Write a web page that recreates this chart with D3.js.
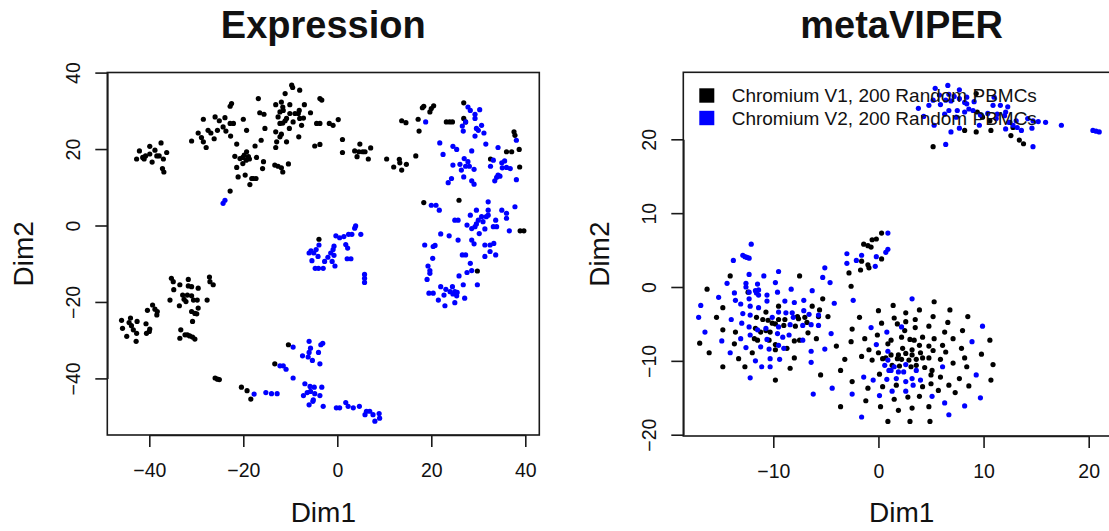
<!DOCTYPE html>
<html><head><meta charset="utf-8">
<script src="https://cdn.jsdelivr.net/npm/d3@7"></script>
<style>body{margin:0;background:#fff}svg{display:block}</style>
</head><body><svg id="c" width="1109" height="531"></svg>
<script>
// ---------- DATA ----------
const titles = ["Expression", "metaVIPER"];
const axisLabels = ["Dim1", "Dim2"];
const legendLabels = ["Chromium V1, 200 Random PBMCs", "Chromium V2, 200 Random PBMCs"];
const seriesColors = ["#000000", "#0000ff"];
const exprXTicks = [-40, -20, 0, 20, 40];
const exprYTicks = [-40, -20, 0, 20, 40];
const viperXTicks = [-10, 0, 10, 20];
const viperYTicks = [-20, -10, 0, 10, 20];

// Expression panel, Chromium V1 (black)
const exprV1 = [
[-42.7,17.4],[-42.1,19.5],[-41.4,17.8],[-41.1,17.4],[-40.8,18.2],[-39.9,20.7],[-39.9,18.7],[-39.4,16.6],[-38.8,19.7],[-38.4,18.2],[-37.9,18.2],[-37.5,21.6],[-37.0,17.4],[-36.3,19.1],[-37.2,14.9],[-36.9,14.0],
[-31.0,22.1],[-29.6,24.2],[-28.9,23.0],[-28.5,21.9],[-27.9,20.4],[-28.5,27.8],[-27.5,24.9],[-26.9,24.2],[-26.0,28.4],[-26.2,22.7],[-25.5,24.9],[-25.1,27.4],[-23.9,28.2],[-24.3,25.8],[-23.7,24.7],[-22.8,26.7],
[-22.7,23.4],[-22.8,31.2],[-22.5,31.9],[-22.1,26.7],[-21.4,21.3],[-20.0,27.8],[-19.3,24.9],[-21.8,18.1],[-21.4,15.2],[-20.7,17.5],[-20.1,17.8],[-19.8,18.4],[-19.4,17.1],[-19.3,19.3],[-18.9,18.0],[-18.7,17.4],
[-18.2,12.3],[-17.9,12.3],[-17.3,12.3],[-21.1,12.7],[-19.6,13.2],[-18.6,10.7],[-20.1,16.2],[-17.5,20.8],[-17.2,17.8],[-16.2,22.3],[-15.7,16.7],[-15.9,14.9],[-15.4,25.4],[-16.8,33.2],[-16.5,29.5],[-15.6,29.1],
[-13.1,31.6],[-12.6,28.4],[-12.2,29.7],[-11.9,32.3],[-11.6,31.0],[-11.5,30.1],[-11.6,26.8],[-12.2,26.7],[-11.1,27.4],[-10.8,28.0],[-10.1,29.3],[-10.1,31.6],[-9.7,36.7],[-9.5,36.1],[-11.1,34.5],[-8.0,35.4],
[-9.4,27.1],[-10.2,25.4],[-9.0,29.3],[-8.3,29.3],[-8.0,28.0],[-8.1,30.1],[-7.6,26.2],[-7.0,31.6],[-5.7,29.5],[-13.1,24.5],[-11.9,23.9],[-12.2,23.2],[-12.9,21.9],[-13.1,20.4],[-10.8,21.9],[-13.3,15.8],
[-12.6,15.5],[-11.9,15.1],[-11.6,14.0],[-10.4,16.1],[-8.2,23.2],[-7.2,28.1],[-4.4,26.7],[-3.7,26.7],[-1.7,26.7],[-0.9,26.2],[0.2,27.7],[-3.7,33.2],[-3.3,32.8],[-4.8,20.8],[-3.7,21.2],[-22.8,9.0],
[1.1,22.5],[1.1,19.1],[3.7,19.5],[4.2,18.0],[4.8,21.3],[4.6,19.3],[5.4,19.3],[5.9,19.3],[6.6,17.4],[7.1,20.3],[10.5,17.4],[12.0,15.3],[13.2,17.3],[13.3,16.4],[13.7,14.5],[14.7,16.0],
[16.7,18.2],[13.7,27.4],[14.6,26.9],[17.2,27.8],[17.4,24.7],[18.1,30.8],[18.4,31.2],[19.7,29.7],[20.0,30.6],[20.5,31.3],[23.2,27.1],[23.9,27.1],[24.5,27.1],[26.9,32.1],[26.9,28.0],[27.3,27.1],
[37.6,24.5],[37.8,23.6],[36.0,19.3],[37.1,19.3],[38.7,19.9],[32.6,17.4],[38.8,15.3],[18.4,6.0],[38.9,-1.4],[39.7,-1.4],[25.9,6.6],[29.8,-11.9],[-3.9,-3.6],
[-45.9,-24.8],[-45.7,-26.9],[-44.8,-29.0],[-44.3,-25.4],[-44.0,-24.2],[-43.8,-26.2],[-43.4,-27.3],[-42.8,-30.3],[-42.7,-28.2],[-42.6,-25.1],[-40.7,-25.7],[-40.6,-28.2],[-40.0,-27.7],[-39.9,-27.1],[-39.3,-20.8],[-40.4,-22.2],
[-38.8,-21.9],[-38.4,-23.4],[-38.3,-22.5],
[-35.3,-13.8],[-34.9,-14.7],[-34.8,-16.8],[-35.6,-19.5],[-33.5,-15.5],[-33.6,-21.0],[-32.9,-18.2],[-32.6,-19.3],[-32.2,-19.9],[-31.9,-18.2],[-31.7,-14.1],[-31.7,-15.8],[-31.0,-16.0],[-31.0,-18.4],[-30.6,-19.5],[-30.3,-23.0],
[-30.8,-25.1],[-31.0,-22.5],[-29.8,-19.5],[-29.6,-16.4],[-29.6,-21.6],[-29.9,-23.1],[-27.7,-19.5],[-27.2,-13.5],[-27.1,-14.7],[-26.4,-15.5],[-33.3,-27.3],[-33.5,-29.5],[-32.4,-28.6],[-31.9,-28.6],[-31.4,-28.9],[-30.8,-29.2],
[-30.3,-29.7],[-26.0,-39.9],[-25.5,-40.2],[-25.1,-40.3],[-20.4,-42.3],[-19.2,-43.2],[-18.4,-45.4],[-13.3,-36.2],[-10.4,-31.2]
];

// Expression panel, Chromium V2 (blue)
const exprV2 = [
[-24.3,5.8],[-23.9,6.6],[18.8,27.1],
[27.8,31.0],[28.3,30.1],[29.3,29.1],[29.3,28.0],[30.3,30.3],[27.3,27.1],[26.6,26.0],[26.8,24.7],[29.6,25.4],[30.0,24.9],[30.7,26.2],[31.2,24.2],[29.3,23.4],[31.6,21.3],[34.2,20.4],[38.1,22.3],
[21.8,21.6],[22.5,18.6],[24.6,20.7],[25.4,19.9],[28.6,19.5],[27.0,17.5],[27.8,16.7],[26.1,16.0],[24.6,15.8],[26.4,14.5],[27.3,15.5],[28.1,15.5],[29.1,14.7],[26.9,12.7],[28.6,11.7],[29.1,10.8],
[24.3,12.3],[23.6,11.2],[33.2,17.1],[32.6,15.5],[35.0,16.4],[35.6,16.9],[35.1,15.1],[36.0,15.2],[36.8,14.9],[33.9,12.6],[34.2,13.2],[34.6,12.9],[33.5,11.7],[38.1,12.0],
[20.0,5.3],[21.0,5.3],[21.7,4.0],[25.0,1.4],[25.7,1.4],[28.3,2.7],[29.6,4.0],[30.0,1.4],[30.7,2.3],[31.0,1.0],[31.7,2.3],[32.1,6.2],[32.1,4.0],[32.1,2.7],[29.6,0.4],[29.3,-0.3],
[28.6,-0.8],[27.6,0.1],[30.2,-2.1],[31.4,-0.9],[33.2,-0.3],[33.7,1.4],[33.9,-0.3],[35.0,4.0],[36.0,3.2],[36.0,1.9],[37.8,4.9],[36.6,-1.4],[22.0,-2.2],[23.8,-2.7],[25.7,-3.8],[28.6,-3.8],
[29.1,-4.8],[31.4,-5.1],[32.5,-5.1],[33.3,-4.7],[18.6,-5.1],[20.4,-5.5],[20.8,-5.2],
[20.3,-8.6],[19.3,-10.6],[19.7,-11.8],[19.7,-12.5],[19.1,-14.1],[32.5,-6.8],[33.7,-7.7],[31.4,-8.1],[28.3,-9.9],[26.6,-7.7],[27.3,-7.7],[25.9,-13.2],[27.6,-12.3],[28.6,-11.8],[26.8,-15.5],[29.8,-15.5],
[19.5,-17.7],[20.4,-17.7],[22.0,-16.0],[23.1,-16.7],[22.7,-18.2],[21.5,-19.5],[22.9,-21.0],[24.0,-17.3],[24.5,-16.0],[24.6,-17.9],[25.0,-17.3],[25.4,-18.4],[25.5,-17.5],[25.0,-20.2],[27.1,-19.0],
[-5.6,-6.6],[-5.0,-7.2],[-4.5,-6.3],[-3.9,-5.1],[-4.1,-8.1],[-4.7,-11.2],[-4.0,-11.2],[-3.0,-11.2],[-2.7,-9.4],[-2.0,-8.3],[-1.4,-7.2],[-0.9,-6.3],[-0.7,-7.8],[-1.1,-9.4],[-0.5,-10.6],[-0.7,-5.4],
[-0.3,-2.7],[0.5,-3.2],[1.4,-2.9],[2.4,-2.3],[1.8,-5.0],[2.2,-5.9],[2.9,-8.7],[2.1,-8.7],[3.1,-2.3],[3.7,-0.7],[3.9,-0.1],[5.0,-2.3],[5.8,-12.8],[5.8,-13.8],[5.8,-14.9],[-6.0,-7.2],[-5.4,-9.2],
[-17.7,-44.1],[-15.2,-43.7],[-14.0,-44.0],[-12.8,-44.0],[-12.2,-36.7],[-11.5,-36.7],[-10.9,-37.6],[-9.4,-31.8],[-9.4,-39.9],[-6.0,-30.3],[-5.7,-32.1],[-6.0,-33.2],[-7.4,-34.1],[-6.2,-34.4],[-5.3,-35.3],[-3.7,-36.2],
[-4.0,-33.2],[-3.5,-31.2],[-3.1,-30.8],[-6.9,-41.4],[-5.8,-42.1],[-4.9,-42.3],[-3.3,-42.3],[-7.2,-44.5],[-6.4,-43.7],[-5.7,-43.4],[-4.8,-44.0],[-3.7,-44.5],[-5.1,-45.6],[-6.0,-46.9],[-5.2,-46.0],[-3.0,-47.3],
[-0.2,-47.7],[0.5,-47.7],[1.8,-46.3],[2.3,-47.3],[3.4,-47.7],[4.7,-47.3],[5.9,-49.5],[6.2,-48.6],[6.9,-48.6],[7.6,-49.5],[8.0,-51.2],[8.9,-49.2],[9.0,-50.4]
];

// metaVIPER panel, Chromium V1 (black)
const viperV1 = [
[-14.1,1.5],[-7.5,1.5],[-16.3,-0.3],[-12.4,-0.7],[-5.3,-1.6],[-14.8,-2.8],[-10.7,-3.4],[-9.5,-2.6],[-6.3,-2.6],[-5.6,-3.1],[-4.8,-4.0],[-15.4,-4.1],[-11.6,-4.1],[-11.0,-4.4],[-10.5,-4.5],[-10.1,-4.9],
[-9.5,-4.4],[-8.9,-4.4],[-7.7,-4.0],[-7.6,-4.3],[-7.0,-4.1],[-6.8,-4.8],[-14.8,-5.8],[-13.6,-6.1],[-11.7,-5.6],[-11.2,-6.1],[-10.7,-5.9],[-10.3,-6.1],[-9.8,-5.0],[-9.0,-5.2],[-7.9,-5.3],[-6.7,-6.2],
[-5.7,-4.0],[-17.0,-7.6],[-13.7,-7.7],[-11.8,-7.0],[-11.5,-7.2],[-10.4,-7.2],[-8.0,-7.3],[-7.5,-7.2],[-5.9,-7.0],[-16.1,-8.9],[-13.3,-9.7],[-12.0,-8.9],[-8.7,-8.3],[-9.8,-7.8],[-4.0,-8.0],[-14.8,-10.8],
[-12.7,-10.8],[-8.0,-9.6],[-8.4,-11.0],[-9.8,-8.5],[-9.8,-12.6],[-5.5,-11.9],
[-1.4,5.8],[-1.0,5.6],[-0.7,5.4],[-0.6,6.4],[-0.2,6.5],[0.3,7.3],[-1.6,3.5],[-1.7,2.3],[-1.0,3.0],[-0.9,2.6],[0.3,3.8],[-2.8,1.9],[-2.6,0.1],
[-1.8,-4.1],[0.0,-3.2],[0.3,-4.9],[-2.5,-5.7],[-1.3,-7.0],[-0.1,-6.5],[-2.6,-7.4],[-0.9,-8.5],[-1.6,-9.4],[0.0,-8.9],[0.9,-7.7],[-3.2,-9.8],[-0.6,-9.9],[0.4,-9.7],[-3.6,-11.3],[-2.5,-12.8],
[-1.0,-13.7],[0.1,-11.8],[0.4,-13.5],[-1.2,-15.4],[-3.6,-16.2],[0.9,-18.2],[0.2,-16.2],
[5.3,-2.0],[1.4,-2.5],[3.9,-3.1],[6.8,-3.1],[2.6,-3.5],[8.5,-4.0],[1.5,-4.2],[3.5,-4.4],[5.2,-4.0],[6.6,-4.8],[1.8,-5.0],[2.6,-4.7],[3.5,-5.5],[4.8,-5.3],[6.3,-6.1],[8.0,-5.9],
[2.5,-5.9],[4.2,-6.8],[2.2,-6.8],[3.0,-7.1],[3.4,-7.2],[3.9,-7.9],[1.2,-7.2],[2.3,-8.3],[3.2,-8.5],[4.8,-8.0],[5.3,-7.0],[6.1,-7.9],[7.1,-7.0],[7.9,-8.3],[9.8,-9.1],[10.6,-7.2],
[1.2,-9.2],[1.9,-9.2],[2.6,-9.0],[3.2,-9.2],[4.0,-8.9],[5.2,-8.6],[6.4,-8.8],[8.2,-9.6],[0.7,-9.6],[1.8,-9.7],[2.2,-9.8],[2.9,-9.9],[3.6,-9.8],[4.2,-9.6],[4.8,-9.6],[5.9,-9.8],
[7.1,-10.3],[8.4,-10.8],[10.9,-10.5],[10.7,-12.6],[1.3,-10.6],[2.0,-10.7],[3.1,-10.8],[3.6,-10.6],[4.4,-10.9],[5.1,-11.3],[5.0,-11.9],[5.9,-12.2],[7.7,-12.4],[8.6,-13.4],[1.7,-13.3],[4.2,-13.5],
[5.0,-13.1],[5.7,-14.0],[6.7,-13.3],[7.3,-14.3],[2.8,-14.9],[1.5,-15.2],[3.9,-14.8],[4.8,-16.2],[3.2,-16.4],[1.9,-16.7],[3.0,-18.2],[4.9,-18.2],
[5.2,19.0],[9.3,26.2],[8.2,21.2],[9.3,21.0],[10.7,21.2],[12.6,20.5],[13.4,19.9],[13.8,19.4],[9.9,23.0],[10.6,22.5],[12.5,22.3],[12.8,21.6],[9.4,23.7]
];

// metaVIPER panel, Chromium V2 (blue)
const viperV2 = [
[-12.1,5.8],[-12.9,4.3],[-12.7,4.1],[-12.5,4.0],[-12.3,3.9],[-13.8,3.6],[-12.3,1.7],[-10.9,1.5],[-9.5,2.1],[-14.4,0.5],[-12.6,0.5],[-12.6,0.0],[-11.5,0.4],[-11.4,-0.4],[-9.8,0.6],[-8.3,-0.3],
[-5.3,1.3],[-4.6,0.6],[-5.1,2.6],[-13.7,-0.8],[-12.3,-0.7],[-11.7,-0.5],[-11.6,-0.8],[-11.4,-1.1],[-10.6,-1.1],[-9.6,-0.7],[-6.3,-0.5],[-15.2,-1.4],[-13.6,-1.8],[-12.3,-1.6],[-10.6,-1.9],[-8.9,-1.9],
[-8.0,-2.1],[-7.1,-1.8],[-4.2,-2.2],[-16.9,-2.5],[-13.1,-2.3],[-12.2,-2.6],[-11.4,-2.8],[-9.5,-3.4],[-8.8,-3.5],[-8.2,-3.5],[-7.1,-3.2],[-6.6,-3.7],[-5.7,-3.8],[-17.1,-4.1],[-14.0,-4.4],[-12.9,-3.6],
[-12.2,-3.8],[-10.1,-4.1],[-8.1,-4.1],[-5.7,-5.2],[-16.5,-6.1],[-13.0,-4.9],[-12.3,-5.4],[-11.5,-5.8],[-10.7,-5.6],[-9.5,-5.4],[-8.4,-5.1],[-7.2,-5.2],[-6.4,-5.1],[-14.9,-7.3],[-13.1,-7.0],[-12.2,-6.5],
[-10.6,-7.1],[-9.6,-6.3],[-9.1,-6.8],[-8.5,-6.5],[-7.2,-7.2],[-4.5,-6.3],[-12.6,-8.2],[-11.2,-8.1],[-10.4,-8.4],[-9.0,-8.3],[-9.5,-7.9],[-6.4,-8.7],[-5.1,-8.4],[-14.1,-8.9],[-11.7,-10.0],[-10.3,-9.7],
[-9.4,-9.8],[-6.4,-10.2],[-12.2,-12.3],[-11.1,-10.8],[-10.3,-10.8],[-6.2,-14.5],[-4.4,-13.7],
[-3.0,4.5],[-1.6,4.3],[-2.1,3.6],[-3.0,3.2],[-0.2,4.1],[0.7,4.7],[0.9,5.1],[-0.3,2.8],[-2.4,-1.8],[0.9,7.3],
[-0.7,-5.5],[-0.2,-7.8],[0.8,-6.1],[-1.4,-12.2],[-2.5,-14.5],[0.1,-14.7],[-1.6,-17.6],[-0.5,-12.6],[0.9,-9.9],[1.0,-11.3],[0.6,-10.6],
[3.2,-1.6],[2.2,-5.4],[9.9,-5.3],[8.9,-7.4],[0.9,-8.7],[1.2,-11.3],[1.5,-10.8],[1.9,-11.5],[2.4,-11.5],[2.6,-10.5],[3.6,-11.3],[6.1,-10.8],[9.3,-11.9],[0.8,-12.5],[1.7,-12.4],[2.6,-12.8],
[3.2,-12.4],[3.3,-13.3],[4.0,-12.6],[1.3,-14.1],[2.6,-14.1],[5.1,-14.8],[6.3,-15.7],[8.2,-16.1],[9.7,-15.0],[6.7,-17.3],
[5.4,26.9],[6.6,27.3],[7.7,26.7],[5.8,26.0],[5.2,25.3],[4.8,24.6],[5.9,24.7],[6.4,25.3],[6.9,25.2],[7.2,25.8],[7.7,25.5],[8.2,25.0],[8.4,24.8],[8.6,24.1],[9.0,23.9],[8.2,23.7],
[6.3,23.4],[5.3,21.9],[6.9,21.0],[7.7,21.5],[9.6,21.9],[9.1,25.1],[8.4,25.7],[11.0,25.7],[10.9,24.6],[11.6,24.6],[12.3,24.4],[11.3,23.4],[12.0,23.2],[13.1,22.5],[13.2,21.6],[13.6,21.2],
[12.8,21.9],[14.6,21.5],[15.2,22.4],[15.9,22.3],[17.4,21.9],[20.4,21.2],[20.7,21.1],[21.0,21.0],[14.7,19.0],[6.4,19.3],[3.8,24.2],[4.3,23.1],[6.7,26.1],[7.4,23.0],[9.7,23.3],[10.4,23.5],
[11.2,22.8],[12.4,22.3],[12.1,21.4],[6.7,23.9],[7.5,23.9],[12.1,23.7],[14.2,22.8],[14.7,22.5]
];

// ---------- DRAWING ----------
const FONT = "'Liberation Sans', Arial, Helvetica, sans-serif";
const svg = d3.select("#c");
const fmt = d3.format("d");

const panels = [
  { title: titles[0], s1: exprV1, s2: exprV2, xt: exprXTicks, yt: exprYTicks,
    box: { l: 107.3, r: 539.3, t: 72.5, b: 435 },
    x: d3.scaleLinear().domain([-40, 40]).range([149.3, 525.3]),
    y: d3.scaleLinear().domain([-40, 40]).range([378.4, 72.6]), legend: false },
  { title: titles[1], s1: viperV1, s2: viperV2, xt: viperXTicks, yt: viperYTicks,
    box: { l: 683.3, r: 1125, t: 72.3, b: 436 },
    x: d3.scaleLinear().domain([-10, 20]).range([773.3, 1088.7]),
    y: d3.scaleLinear().domain([-20, 20]).range([434.7, 139.3]), legend: true }
];

panels.forEach(p => {
  const g = svg.append("g");
  const cx = (p.box.l + Math.min(p.box.r, 1120)) / 2;

  // points
  [p.s1, p.s2].forEach((s, i) => {
    g.append("g").selectAll("circle").data(s).join("circle")
      .attr("cx", d => p.x(d[0])).attr("cy", d => p.y(d[1]))
      .attr("r", 2.6).attr("fill", seriesColors[i]);
  });

  // box
  g.append("rect").attr("x", p.box.l).attr("y", p.box.t)
    .attr("width", p.box.r - p.box.l).attr("height", p.box.b - p.box.t)
    .attr("fill", "none").attr("stroke", "#1a1a1a").attr("stroke-width", 1.6);

  // x axis
  const xa = g.append("g").attr("transform", `translate(0,${p.box.b})`)
    .call(d3.axisBottom(p.x).tickValues(p.xt).tickFormat(fmt).tickSize(12).tickSizeOuter(0).tickPadding(16));
  xa.select(".domain").attr("stroke", "#1a1a1a").attr("stroke-width", 1.6);
  xa.selectAll(".tick line").attr("stroke", "#1a1a1a").attr("stroke-width", 1.6);
  xa.selectAll(".tick text").attr("fill", "#111").style("font-family", FONT).style("font-size", "19.5px");

  // y axis
  const ya = g.append("g").attr("transform", `translate(${p.box.l},0)`)
    .call(d3.axisLeft(p.y).tickValues(p.yt).tickFormat(fmt).tickSize(12).tickSizeOuter(0));
  ya.select(".domain").attr("stroke", "#1a1a1a").attr("stroke-width", 1.6);
  ya.selectAll(".tick line").attr("stroke", "#1a1a1a").attr("stroke-width", 1.6);
  ya.selectAll(".tick text").attr("fill", "#111").style("font-family", FONT).style("font-size", "19.5px")
    .attr("x", null).attr("dy", null).attr("text-anchor", "middle")
    .attr("transform", "translate(-27.8,0) rotate(-90)");

  // title
  svg.append("text").attr("x", cx).attr("y", 37.5).attr("text-anchor", "middle")
    .style("font-family", FONT).style("font-size", "38px").style("font-weight", "bold").attr("fill", "#111")
    .text(p.title);
  // axis labels
  svg.append("text").attr("x", cx).attr("y", 522).attr("text-anchor", "middle")
    .style("font-family", FONT).style("font-size", "28px").attr("fill", "#111").text(axisLabels[0]);
  const ymid = (p.box.t + p.box.b) / 2;
  svg.append("text").attr("transform", `translate(${p.box.l - 74},${ymid}) rotate(-90)`)
    .attr("text-anchor", "middle")
    .style("font-family", FONT).style("font-size", "28px").attr("fill", "#111").text(axisLabels[1]);

  // legend
  if (p.legend) {
    const lg = svg.append("g");
    legendLabels.forEach((lab, i) => {
      const yy = 95.5 + i * 22.5;
      lg.append("rect").attr("x", 699.3).attr("y", yy - 7.2).attr("width", 15).attr("height", 14.4)
        .attr("fill", seriesColors[i]);
      lg.append("text").attr("x", 731.7).attr("y", yy + 6.8)
        .style("font-family", FONT).style("font-size", "19px").attr("fill", "#111").text(lab);
    });
  }
});
</script>
</body></html>
